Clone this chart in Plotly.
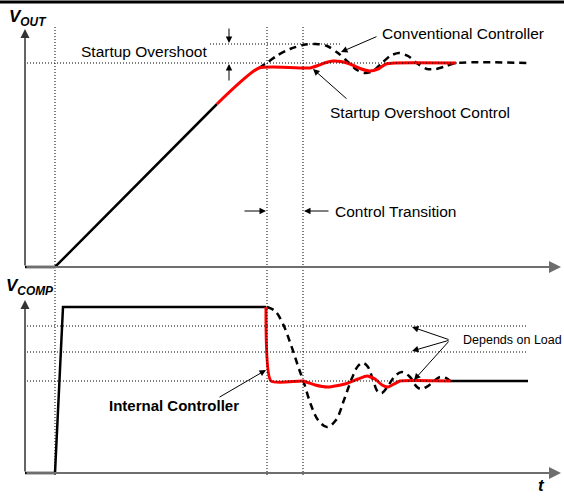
import plotly.graph_objects as go

# diagram units: x = time position, y = level (screen-like, grows downward)
vout_ramp_t = [25, 55, 217]
vout_ramp_v = [267, 267, 104]

vout_soc_t = [217, 259, 310, 318, 326, 333, 341, 350, 360, 370, 378, 386, 395, 456]
vout_soc_v = [104, 68, 68, 65.5, 62.5, 61, 61.5, 64, 68.5, 71, 69, 64, 63, 63]

vout_conv_t = [259, 268, 278, 290, 303, 316, 327, 338, 348, 357, 365, 373, 382, 390, 399,
               408, 418, 427, 436, 446, 456, 528]
vout_conv_v = [68, 62, 55, 49, 45, 44, 46, 53, 62, 70, 73, 71, 63, 56, 53,
               56, 64, 69, 69, 66, 63, 63]

vcomp_start_t = [25, 55, 63, 266]
vcomp_start_v = [473, 473, 307, 307]

vcomp_soc_t = [266, 271, 303, 315, 328, 345, 358, 367, 375, 382, 388, 394, 400, 451]
vcomp_soc_v = [307, 381, 381, 385, 387, 384, 379, 376, 379, 385, 387, 384, 381, 381]

vcomp_end_t = [451, 528]
vcomp_end_v = [381, 381]

vcomp_conv_t = [267, 275, 283, 291, 298, 304, 311, 318, 327, 336, 344, 352, 358, 363, 368,
                373, 378, 382, 388, 395, 402, 410, 416, 421, 428, 434, 440, 446, 450]
vcomp_conv_v = [307, 311, 324, 345, 366, 383, 405, 420, 427, 420, 400, 378, 366, 363, 367,
                380, 392, 393, 386, 376, 372, 377, 386, 389, 386, 381, 377, 378, 381]

vcomp_levels = [326, 352, 381]
vout_target = 63
vout_peak = 44
marker_times = [55, 267, 303]

FONT = "Liberation Sans, Arial, sans-serif"

fig = go.Figure()


def trace(x, y, color, width, dash="solid", shape="linear", smoothing=None):
    line = dict(color=color, width=width, dash=dash, shape=shape)
    if smoothing is not None:
        line["smoothing"] = smoothing
    fig.add_trace(go.Scatter(x=x, y=y, mode="lines", hoverinfo="skip", line=line))


# dotted reference lines
dot = dict(color="black", width=1, dash="1px,2px")
for t in marker_times:
    fig.add_shape(type="line", x0=t, x1=t, y0=27, y1=475, line=dot)
fig.add_shape(type="line", x0=27, x1=460, y0=vout_target, y1=vout_target, line=dot)
fig.add_shape(type="line", x0=210, x1=340, y0=vout_peak, y1=vout_peak, line=dot)
for lv in vcomp_levels:
    fig.add_shape(type="line", x0=27, x1=528, y0=lv, y1=lv, line=dot)

# top border
fig.add_shape(type="line", x0=0, x1=564, y0=2, y1=2, line=dict(color="black", width=3))


def arrow(x, y, ax, ay, color="black", width=1, head=2, size=1.0):
    fig.add_annotation(x=x, y=y, ax=ax, ay=ay, xref="x", yref="y", axref="x", ayref="y",
                       showarrow=True, arrowhead=head, arrowsize=size, arrowwidth=width,
                       arrowcolor=color, text="")

# axes with arrowheads
arrow(561, 267, 25, 267, color="#6e6e6e", width=2, size=1.2)
arrow(561, 473, 25, 473, color="#6e6e6e", width=2, size=1.2)
arrow(25, 29, 25, 267, color="#333", width=1.5, size=1.2)
arrow(25, 300, 25, 473, color="#333", width=1.5, size=1.2)

# curves
trace(vout_ramp_t, vout_ramp_v, "black", 2.5)
trace(vout_conv_t, vout_conv_v, "black", 2.5, dash="7px,5px", shape="spline", smoothing=0.8)
trace(vout_soc_t, vout_soc_v, "#ff0000", 3, shape="spline", smoothing=0.5)
trace(vcomp_start_t, vcomp_start_v, "black", 2.5)
trace(vcomp_end_t, vcomp_end_v, "black", 2.5)
trace(vcomp_conv_t, vcomp_conv_v, "black", 2.5, dash="7px,5px", shape="spline", smoothing=1)
trace(vcomp_soc_t, vcomp_soc_v, "#ff0000", 3, shape="spline", smoothing=0.5)

# annotation arrows
arrow(229, 43, 229, 27, size=1.3)
arrow(229, 64, 229, 82, size=1.3)
arrow(341, 52, 378, 36, size=1.3)
arrow(313, 69, 348, 100, size=1.3)
arrow(266, 211, 243, 211, size=1.3)
arrow(304, 211, 330, 211, size=1.3)
arrow(266, 370, 218, 398, size=1.3)
arrow(412, 327, 450, 340, size=1.3)
arrow(412, 351, 450, 340, size=1.3)
arrow(414, 380, 450, 340, size=1.3)


def label(x, y, text, size=15, anchor="left"):
    fig.add_annotation(x=x, y=y, xref="x", yref="y", text=text, showarrow=False,
                       xanchor=anchor, yanchor="middle",
                       font=dict(family=FONT, size=size, color="black"))

label(79, 51, "Startup Overshoot", size=15.5)
label(380, 33, "Conventional Controller", size=15.5)
label(328, 112, "Startup Overshoot Control", size=15.5)
label(333, 211, "Control Transition", size=15.5)
label(107, 405, "<b>Internal Controller</b>")
label(461, 340, "Depends on Load", size=12.5)
label(7, 18, "<b><i>V<sub>OUT</sub></i></b>", size=17)
label(4, 287, "<b><i>V<sub>COMP</sub></i></b>", size=17)
label(536, 485, "<b><i>t</i></b>", size=17)

fig.update_layout(
    width=564, height=496,
    margin=dict(l=0, r=0, t=0, b=0),
    paper_bgcolor="white", plot_bgcolor="white",
    showlegend=False,
    xaxis=dict(range=[0, 564], visible=False, fixedrange=True),
    yaxis=dict(range=[496, 0], visible=False, fixedrange=True),
)

fig.write_html("out.html", config={"displayModeBar": False},
               post_script="document.body.style.margin='0';")
